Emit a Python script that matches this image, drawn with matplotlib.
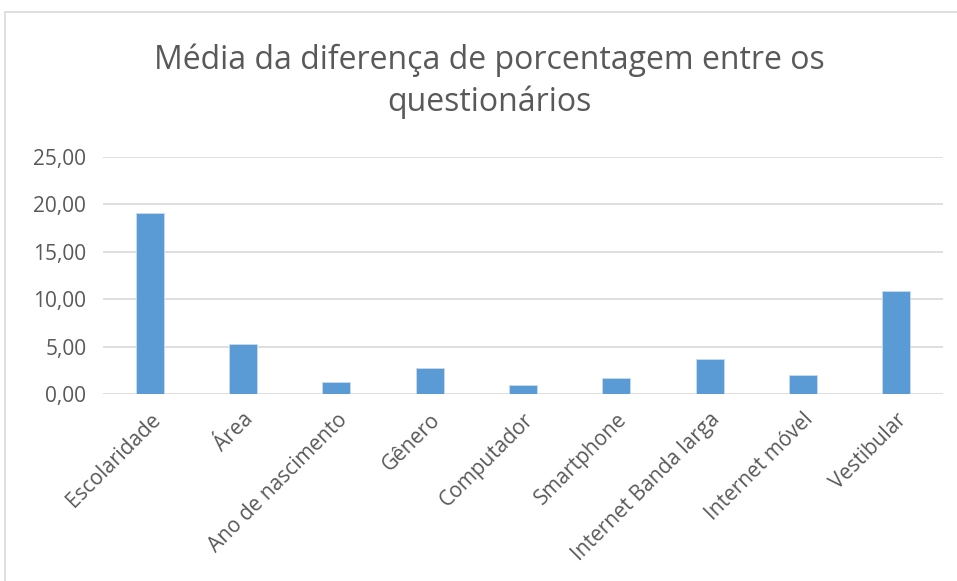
import numpy as np
import matplotlib
matplotlib.use("Agg")
from matplotlib import pyplot as plt
from matplotlib.patches import Rectangle

categorias = ["Escolaridade", "Área", "Ano de nascimento", "Gênero", "Computador",
              "Smartphone", "Internet Banda larga", "Internet móvel", "Vestibular"]
valores = [19.07, 5.27, 1.22, 2.70, 0.95, 1.64, 3.69, 2.00, 10.85]
yticks = [0, 5, 10, 15, 20, 25]

plt.rcParams['font.family'] = ['Open Sans', 'DejaVu Sans']
cinza = '#595959'

fig = plt.figure(figsize=(9.57, 5.81), dpi=100)
W, H = 957, 581
ax = fig.add_axes([103 / W, 1 - 394 / H, 840 / W, (394 - 157) / H])

x = np.arange(len(categorias))
ax.bar(x, valores, width=0.3, color='#5b9bd5', edgecolor='#c9dcf0', linewidth=0.6, zorder=3)

ax.set_xlim(-0.5, len(categorias) - 0.5)
ax.set_ylim(0, 25)
ax.set_yticks(yticks)
ax.set_yticklabels([f"{v:.2f}".replace('.', ',') for v in yticks], color=cinza, fontsize=15)
ax.set_xticks(x)
ax.set_xticklabels(categorias, rotation=45, ha='right', rotation_mode='anchor',
                   color=cinza, fontsize=15)
ax.tick_params(axis='y', length=0, pad=12)
ax.tick_params(axis='x', length=0, pad=11)
ax.grid(axis='y', color='#d9d9d9', linewidth=1.2, zorder=0)
for s in ax.spines.values():
    s.set_visible(False)

fig.text(489 / W, 1 - 60 / H, "Média da diferença de porcentagem entre os", ha='center', va='center',
         fontsize=23, color=cinza)
fig.text(489 / W, 1 - 102 / H, "questionários", ha='center', va='center',
         fontsize=23, color=cinza)

# moldura do gráfico
fig.patches.append(Rectangle((5 / W, -0.1), 1.1, 1 - 12 / H + 0.1, transform=fig.transFigure,
                             fill=False, edgecolor='#d9d9d9', linewidth=1.2))

fig.savefig("out.png", dpi=100)
